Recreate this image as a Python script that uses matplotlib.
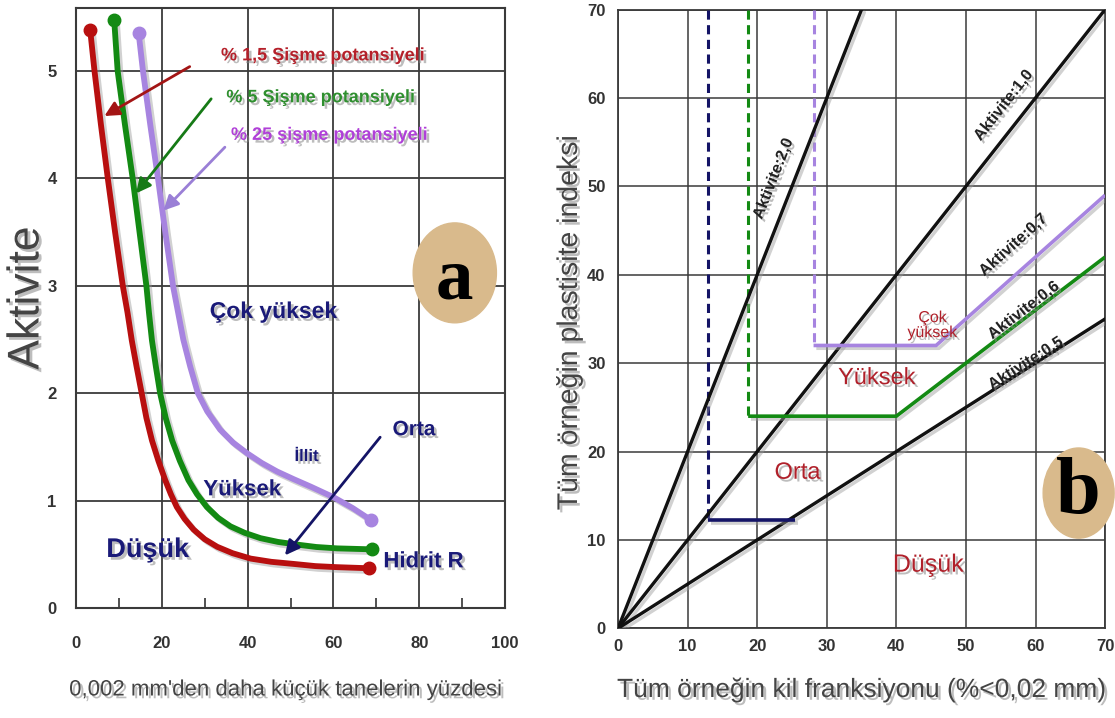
import numpy as np
import matplotlib
matplotlib.use('Agg')
import matplotlib.pyplot as plt
import matplotlib.patheffects as pe
from matplotlib.patches import Ellipse

plt.rcParams['font.family'] = ['Liberation Sans', 'DejaVu Sans']

# panel a: activity curves (% < 0.002 mm vs activity)
red_x = [3.3, 4.3, 5.8, 7.4, 9.1, 10.9, 12.0, 13.0, 14.1, 15.3, 16.4, 17.7, 19.2, 20.8, 22.1,
         23.5, 25.3, 27.4, 30.0, 32.9, 36.5, 40.7, 45.5, 50.8, 55.8, 60.9, 68.3]
red_y = [5.38, 5.0, 4.5, 4.0, 3.5, 3.0, 2.75, 2.49, 2.25, 2.0, 1.77, 1.56, 1.37, 1.19, 1.06,
         0.94, 0.83, 0.73, 0.64, 0.57, 0.51, 0.46, 0.43, 0.41, 0.39, 0.38, 0.37]
green_x = [8.9, 9.7, 11.4, 13.2, 14.8, 16.4, 17.0, 17.7, 18.6, 19.6, 20.9, 22.4, 24.2, 26.2,
           28.2, 30.5, 33.1, 36.0, 39.3, 43.0, 47.1, 51.6, 56.0, 60.9, 69.1]
green_y = [5.47, 5.0, 4.5, 4.0, 3.5, 3.0, 2.75, 2.49, 2.25, 2.0, 1.77, 1.56, 1.37, 1.19,
           1.06, 0.94, 0.84, 0.76, 0.70, 0.65, 0.615, 0.59, 0.568, 0.555, 0.546]
purple_x = [14.6, 15.6, 17.3, 19.1, 20.8, 22.6, 23.8, 25.0, 26.6, 28.4, 30.6, 33.6, 36.6,
            39.9, 43.3, 46.9, 50.7, 54.7, 60.1, 64.5, 68.7]
purple_y = [5.35, 5.0, 4.5, 4.0, 3.5, 3.0, 2.75, 2.5, 2.25, 2.0, 1.83, 1.66, 1.54,
            1.44, 1.35, 1.27, 1.2, 1.13, 1.03, 0.93, 0.82]

swell_labels = ['% 1,5 Şişme potansiyeli', '% 5 Şişme potansiyeli', '% 25 şişme potansiyeli']
arrow_tails = [(26.5, 5.04), (31.5, 4.74), (34.7, 4.29), (70.9, 1.59)]
arrow_heads = [(6.6, 4.58), (14.0, 3.86), (20.4, 3.70), (48.7, 0.49)]

zones_a = ['Çok yüksek', 'İllit', 'Yüksek', 'Orta', 'Düşük', 'Hidrit R']

# panel b: activity lines and swell boundaries
act_slopes = [2.0, 1.0, 0.5]
act_labels = ['Aktivite:2,0', 'Aktivite:1,0', 'Aktivite:0,7', 'Aktivite:0,6', 'Aktivite:0,5']
act_label_slopes = [2.0, 1.0, 0.7, 0.6, 0.5]
bound_x = [13.0, 18.7, 28.1]      # vertical dashed limits
bound_y = [12.2, 24.0, 32.0]      # horizontal floors
bound_slope = [None, 0.6, 0.7]    # diagonal continuation
navy_end_x = 25.5
zones_b = ['Çok\nyüksek', 'Yüksek', 'Orta', 'Düşük']

RED, GREEN, PURPLE, NAVY = '#b80f0f', '#138a13', '#a784e0', '#141466'
TAN = '#d9ba8c'

txt_shadow = [pe.withSimplePatchShadow(offset=(2, -2), shadow_rgbFace='#888888', alpha=0.55)]
line_shadow = [pe.SimpleLineShadow(offset=(2, -2), shadow_color='#999999', alpha=0.45), pe.Normal()]

fig = plt.figure(figsize=(11.15, 7.18), dpi=100)

# ---------------- panel a ----------------
ax1 = fig.add_axes([0.0682, 0.1532, 0.3847, 0.8357])
ax1.set_xlim(0, 100)
ax1.set_ylim(0, 5.586)
ax1.set_xticks(np.arange(0, 101, 20))
ax1.set_xticks(np.arange(0, 101, 10), minor=True)
ax1.set_yticks(np.arange(0, 6, 1))
ax1.grid(True, which='major', color='#3a3a3a', lw=1.3)
ax1.tick_params(axis='x', which='major', length=0, pad=20, labelsize=12, labelcolor='#333333')
ax1.tick_params(axis='x', which='minor', direction='in', length=7, width=1.2, color='#333333')
ax1.tick_params(axis='y', length=0, pad=14, labelsize=12, labelcolor='#333333')
for lab in ax1.get_xticklabels() + ax1.get_yticklabels():
    lab.set_fontweight('bold')
for sp in ax1.spines.values():
    sp.set_color('#3a3a3a')
    sp.set_linewidth(1.5)

for xs, ys, c in [(red_x, red_y, RED), (green_x, green_y, GREEN), (purple_x, purple_y, PURPLE)]:
    ax1.plot(xs, ys, color=c, lw=4.2, solid_capstyle='round', solid_joinstyle='round',
             path_effects=line_shadow, zorder=4)
    ax1.plot([xs[0], xs[-1]], [ys[0], ys[-1]], 'o', color=c, ms=9, zorder=5)

arrow_colors = ['#a31515', '#167a16', '#9a7fd6', NAVY]
for (tx, ty), (hx, hy), c in zip(arrow_tails, arrow_heads, arrow_colors):
    ax1.annotate('', xy=(hx, hy), xytext=(tx, ty),
                 arrowprops=dict(arrowstyle='-|>', lw=2, color=c, mutation_scale=22,
                                 shrinkA=0, shrinkB=0), zorder=6)

swell_pos = [(57.5, 5.14), (57.0, 4.75), (59.0, 4.40)]
swell_cols = ['#b5202a', '#2f8f2f', '#b040d8']
for s, (x, y), c in zip(swell_labels, swell_pos, swell_cols):
    ax1.text(x, y, s, color=c, fontsize=13, fontweight='bold', ha='center', va='center',
             path_effects=txt_shadow, zorder=7)

zone_a_pos = [(46, 2.76), (53.7, 1.41), (38.7, 1.10), (78.8, 1.66), (16.7, 0.54), (81, 0.43)]
zone_a_size = [16.5, 12, 16, 15, 19.5, 16]
for s, (x, y), fs in zip(zones_a, zone_a_pos, zone_a_size):
    ax1.text(x, y, s, color='#1a1a78', fontsize=fs, fontweight='bold', ha='center', va='center',
             path_effects=txt_shadow, zorder=7)

ax1.add_patch(Ellipse((88.3, 3.12), 19.4, 0.93, color=TAN, zorder=6, clip_on=False))
ax1.text(88.3, 3.12, 'a', fontsize=54, fontweight='bold', family='Liberation Serif',
         ha='center', va='center_baseline', zorder=7)

fig.text(27 / 1115, 1 - 298 / 718, 'Aktivite', rotation=90, ha='center', va='center',
         fontsize=32, color='#444444', path_effects=txt_shadow)
fig.text(286 / 1115, 1 - 690 / 718, "0,002 mm'den daha küçük tanelerin yüzdesi",
         ha='center', va='center', fontsize=16, color='#444444', path_effects=txt_shadow)

# ---------------- panel b ----------------
ax2 = fig.add_axes([0.5543, 0.1249, 0.4368, 0.8618])
ax2.set_xlim(0, 70)
ax2.set_ylim(0, 70)
ax2.set_xticks(np.arange(0, 71, 10))
ax2.set_yticks(np.arange(0, 71, 10))
ax2.grid(True, color='#3a3a3a', lw=1.1)
ax2.tick_params(axis='x', length=0, pad=8, labelsize=12, labelcolor='#333333')
ax2.tick_params(axis='y', length=0, pad=9, labelsize=12, labelcolor='#333333')
for lab in ax2.get_xticklabels() + ax2.get_yticklabels():
    lab.set_fontweight('bold')
for sp in ax2.spines.values():
    sp.set_color('#3a3a3a')
    sp.set_linewidth(1.3)

for k in act_slopes:
    xe = min(70, 70 / k)
    ax2.plot([0, xe], [0, k * xe], color='#111111', lw=2.4, solid_capstyle='round',
             path_effects=line_shadow, zorder=4)

bound_cols = [NAVY, GREEN, PURPLE]
for xv, yf, k, c in zip(bound_x, bound_y, bound_slope, bound_cols):
    ax2.plot([xv, xv], [70, yf], color=c, lw=2.2, ls=(0, (3, 1.8)), zorder=3)
    if k is None:
        hx, hy = [xv, navy_end_x], [yf, yf]
    else:
        hx, hy = [xv, yf / k, 70], [yf, yf, k * 70]
    ax2.plot(hx, hy, color=c, lw=2.6, solid_capstyle='butt', path_effects=line_shadow, zorder=4)

act_label_pos = [(22.3, 50.9), (55.4, 59.2), (56.8, 43.4), (58.3, 36.0), (58.6, 30.0)]
for s, k, (x, y) in zip(act_labels, act_label_slopes, act_label_pos):
    ax2.text(x, y, s, rotation=np.degrees(np.arctan(k)), transform_rotates_text=True,
             rotation_mode='anchor', ha='center', va='center', fontsize=11.5,
             fontweight='bold', color='#222222', path_effects=txt_shadow, zorder=6)

zone_b_pos = [(45.2, 34.3), (37.2, 28.3), (25.8, 17.6), (44.6, 7.2)]
zone_b_size = [11.5, 17, 17, 18]
for s, (x, y), fs in zip(zones_b, zone_b_pos, zone_b_size):
    ax2.text(x, y, s, color='#b0202a', fontsize=fs, ha='center', va='center',
             linespacing=1.0, path_effects=txt_shadow, zorder=6)

ax2.add_patch(Ellipse((66.2, 15.3), 10.2, 10.2, color=TAN, zorder=6, clip_on=False))
ax2.text(66.2, 15.3, 'b', fontsize=58, fontweight='bold', family='Liberation Serif',
         ha='center', va='center', zorder=7)

fig.text(570 / 1115, 1 - 323 / 718, 'Tüm örneğin plastisite indeksi', rotation=90,
         ha='center', va='center', fontsize=20.5, color='#444444', path_effects=txt_shadow)
fig.text(862 / 1115, 1 - 690 / 718, 'Tüm örneğin kil franksiyonu (%<0,02 mm)',
         ha='center', va='center', fontsize=19, color='#444444', path_effects=txt_shadow)

fig.savefig('out.png', dpi=100)
